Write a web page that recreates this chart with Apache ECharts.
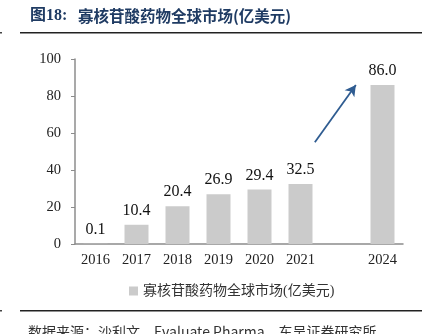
<!DOCTYPE html>
<html><head><meta charset="utf-8">
<script src="https://cdn.jsdelivr.net/npm/echarts@6/dist/echarts.min.js"></script>
<style>html,body{margin:0;padding:0;background:#fff}#c{width:428px;height:334px}</style>
</head><body><div id="c"></div>
<script>
const categories = ['2016','2017','2018','2019','2020','2021','','2024'];
const values = [0.1, 10.4, 20.4, 26.9, 29.4, 32.5, null, 86.0];
const yTicks = [0, 20, 40, 60, 80, 100];
const seriesName = '寡核苷酸药物全球市场(亿美元)';
const titleLabel = '图18:';
const titleText = '寡核苷酸药物全球市场(亿美元)';
const sourceText = '数据来源：沙利文、Evaluate Pharma、东吴证券研究所';
const arrowFrom = [5.85, 55];
const arrowTo = [6.85, 86];

const FONT = '"Liberation Serif", "Times New Roman", "Noto Sans CJK SC", serif';
const chart = echarts.init(document.getElementById('c'));
chart.setOption({
  animation: false,
  grid: { left: 75, right: 25, top: 59, bottom: 90 },
  legend: {
    data: [seriesName], left: 124, top: 279, itemWidth: 9, itemHeight: 9, itemGap: 5,
    textStyle: { fontFamily: FONT, fontSize: 14, color: '#333' }, icon: 'rect'
  },
  xAxis: [{
    type: 'category', data: categories,
    axisLine: { lineStyle: { color: '#8c8c8c', width: 1.5 } },
    axisTick: { show: false },
    axisLabel: { fontFamily: FONT, fontSize: 14.5, color: '#222', margin: 9 }
  }, {
    type: 'value', min: 0, max: 8, show: false
  }],
  yAxis: {
    type: 'value', min: yTicks[0], max: yTicks[yTicks.length-1], interval: 20,
    axisLine: { show: true, lineStyle: { color: '#8c8c8c', width: 1.5 } },
    axisTick: { show: true, length: 4, lineStyle: { color: '#8c8c8c' } },
    splitLine: { show: false },
    axisLabel: { fontFamily: FONT, fontSize: 14.5, color: '#222', margin: 14 }
  },
  series: [{
    name: seriesName, type: 'bar', data: values, barWidth: 24,
    itemStyle: { color: '#cbcbcb' },
    label: { show: true, position: 'top', distance: 6, fontFamily: FONT, fontSize: 16, color: '#111',
      formatter: p => p.value == null ? '' : p.value.toFixed(1) }
  }, {
    type: 'line', xAxisIndex: 1, data: [], silent: true,
    markLine: {
      symbol: ['none', 'arrow'], symbolSize: [9, 11], silent: true,
      label: { show: false },
      lineStyle: { color: '#2f5c91', width: 1.8, type: 'solid' },
      data: [[{ coord: arrowFrom }, { coord: arrowTo }]]
    }
  }],
  graphic: [
    { type: 'text', left: 30, top: 8, style: { text: titleLabel, fontFamily: FONT, fontSize: 16, fontWeight: 'bold', fill: '#1f3b63' } },
    { type: 'text', left: 78, top: 8, style: { text: titleText, fontFamily: '"Noto Sans CJK SC", sans-serif', fontSize: 15.5, fontWeight: 'bold', fill: '#1f3b63' } },
    { type: 'rect', shape: { x: 20, y: 32, width: 402, height: 1.5 }, style: { fill: '#222' } },
    { type: 'rect', shape: { x: 0, y: 32, width: 2, height: 1.5 }, style: { fill: '#444' } },
    { type: 'rect', shape: { x: 20, y: 310, width: 402, height: 1.5 }, style: { fill: '#222' } },
    { type: 'rect', shape: { x: 0, y: 310, width: 2, height: 1.5 }, style: { fill: '#444' } },
    { type: 'text', left: 28, top: 325, style: { text: sourceText, fontFamily: '"Noto Sans CJK SC", sans-serif', fontSize: 14, fill: '#333' } }
  ]
});
</script></body></html>
